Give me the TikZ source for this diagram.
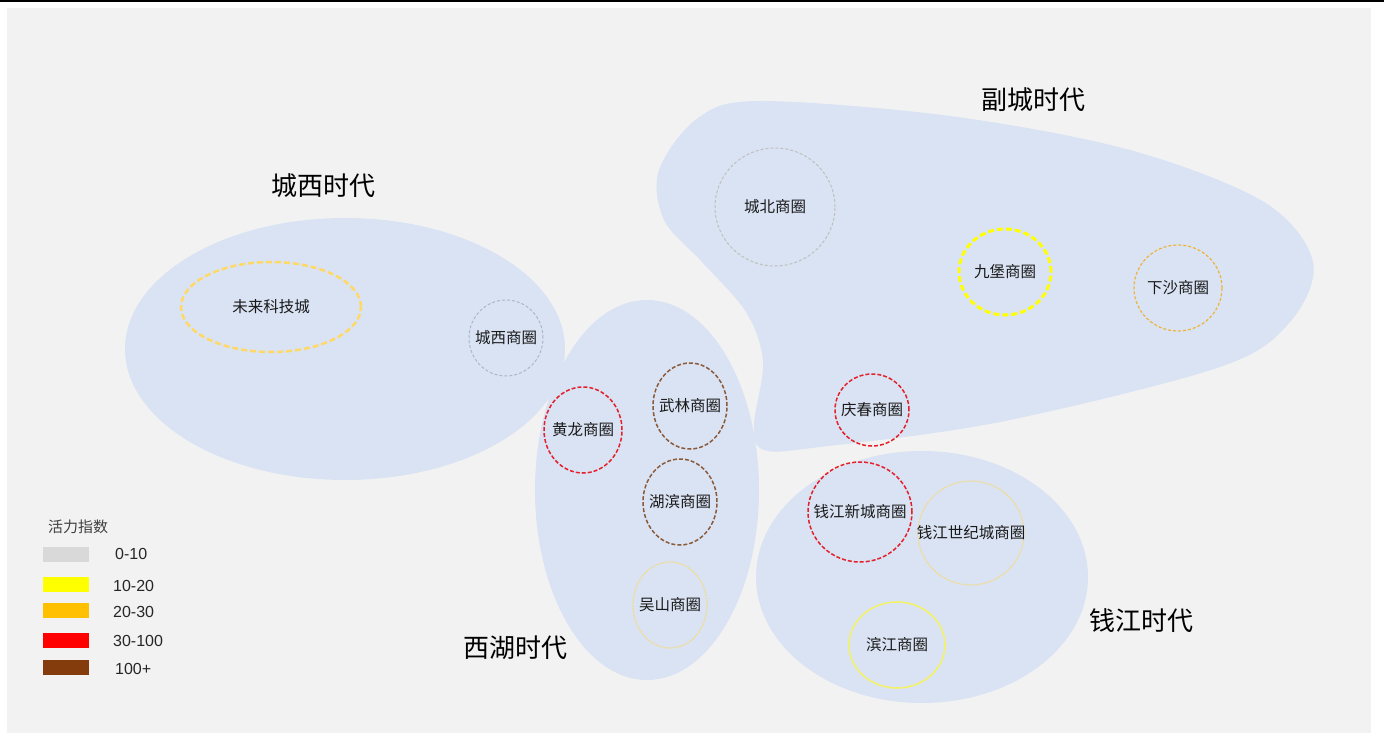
\documentclass[tikz,border=0pt]{standalone}
\usepackage{fontspec}
\setmainfont{Liberation Sans}
\newfontfamily\cjk{Noto Sans CJK SC}
\usetikzlibrary{shapes.geometric}
\definecolor{panel}{HTML}{F2F2F2}
\definecolor{zonefill}{HTML}{DAE3F3}
\definecolor{cgray}{HTML}{BFBFBF}
\definecolor{cbluegray}{HTML}{A9B7C9}
\definecolor{cyellow}{HTML}{FFFF00}
\definecolor{cgold}{HTML}{FFD966}
\definecolor{corange}{HTML}{EDB43A}
\definecolor{cred}{HTML}{E3202B}
\definecolor{cbrown}{HTML}{8A5A3A}
\definecolor{cpale}{HTML}{EEDC96}
\definecolor{clemon}{HTML}{F5F25A}
\definecolor{lgray}{HTML}{D9D9D9}
\definecolor{lorange}{HTML}{FFC000}
\definecolor{lred}{HTML}{FF0000}
\definecolor{lbrown}{HTML}{843C0C}
\tikzset{
  ring/.style={ellipse, draw, fill=none, inner sep=0pt},
  thinring/.style={ring, line width=1pt, dash pattern=on 3pt off 2pt},
  midring/.style={ring, line width=1.5pt, dash pattern=on 4pt off 2pt},
  thickring/.style={ring, line width=3pt, dash pattern=on 6pt off 3pt},
  lbl/.style={font=\cjk\fontsize{15.5}{17}\selectfont, text=black!90, inner sep=0pt},
  title/.style={font=\cjk\fontsize{26}{29}\selectfont, text=black, inner sep=0pt},
  swatch/.style={minimum width=46pt, minimum height=15pt, inner sep=0pt, draw=none},
  legtext/.style={font=\fontsize{16}{18}\selectfont, text=black!85, anchor=west, inner sep=0pt}
}
\begin{document}
\begin{tikzpicture}[x=1pt,y=-1pt]
\useasboundingbox (0,0) rectangle (1384,733);
\fill[white] (0,0) rectangle (1384,733);
\fill[black] (0,0) rectangle (1384,2.2);
\fill[panel] (7,8) rectangle (1371,733);

% zones
\fill[zonefill] (345,349) ellipse [x radius=220pt, y radius=131pt];
\fill[zonefill] (647,490) ellipse [x radius=112pt, y radius=190pt];
\fill[zonefill] (922,577) ellipse [x radius=166pt, y radius=126pt];
\fill[zonefill] plot[smooth cycle, tension=0.55] coordinates {
  (659,170) (698,118) (760,101) (950,116) (1130,150) (1264,202) (1313,262)
  (1290,322) (1220,367) (1000,422) (820,447) (764,450) (754,425) (763,362)
  (746,312) (702,262) (664,220)};

% titles
\node[title] (t1) at (323,186) {城西时代};
\node[title] (t2) at (1033,100) {副城时代};
\node[title] (t3) at (515,648) {西湖时代};
\node[title] (t4) at (1141,621) {钱江时代};

% rings
\node[thickring, draw=cgold, line width=2.5pt, minimum width=180pt, minimum height=90pt] (wl) at (271,307) {};
\node[lbl] at (wl) {未来科技城};
\node[thinring, draw=cbluegray, minimum width=74pt, minimum height=76pt] (cx) at (506,338) {};
\node[lbl] at (cx) {城西商圈};
\node[thinring, draw=cgray, minimum width=120pt, minimum height=118pt] (cb) at (775,207) {};
\node[lbl] at (cb) {城北商圈};
\node[thickring, draw=cyellow, minimum width=92pt, minimum height=86pt] (jb) at (1005,272) {};
\node[lbl] at (jb) {九堡商圈};
\node[thinring, draw=corange, line width=1.2pt, minimum width=88pt, minimum height=86pt] (xs) at (1178,288) {};
\node[lbl] at (xs) {下沙商圈};
\node[midring, draw=cred, minimum width=74pt, minimum height=72pt] (qc) at (872,410) {};
\node[lbl] at (qc) {庆春商圈};
\node[midring, draw=cred, minimum width=78pt, minimum height=86pt] (hl) at (583,430) {};
\node[lbl] at (hl) {黄龙商圈};
\node[midring, draw=cbrown, minimum width=74pt, minimum height=86pt] (wlq) at (690,406) {};
\node[lbl] at (wlq) {武林商圈};
\node[midring, draw=cbrown, minimum width=74pt, minimum height=86pt] (hb) at (680,502) {};
\node[lbl] at (hb) {湖滨商圈};
\node[thinring, draw=cpale, line width=1.3pt, dash pattern=on 2pt off 1pt, minimum width=74pt, minimum height=86pt] (ws) at (670,605) {};
\node[lbl] at (ws) {吴山商圈};
\node[midring, draw=cred, minimum width=104pt, minimum height=100pt] (qjx) at (860,512) {};
\node[lbl] at (qjx) {钱江新城商圈};
\node[thinring, draw=cpale, line width=1.3pt, dash pattern=on 2pt off 1pt, minimum width=106pt, minimum height=104pt] (qjs) at (971,533) {};
\node[lbl] at (qjs) {钱江世纪城商圈};
\node[thinring, draw=clemon, line width=1.6pt, dash pattern=on 3pt off 0.6pt, minimum width=96pt, minimum height=86pt] (bj) at (897,645) {};
\node[lbl] at (bj) {滨江商圈};

% legend
\node[font=\cjk\fontsize{15}{17}\selectfont, text=black!75, inner sep=0pt] (lt) at (78,527) {活力指数};
\node[swatch, fill=lgray] (s1) at (66,554.5) {};
\node[swatch, fill=cyellow] (s2) at (66,584.5) {};
\node[swatch, fill=lorange] (s3) at (66,610.5) {};
\node[swatch, fill=lred] (s4) at (66,640.5) {};
\node[swatch, fill=lbrown] (s5) at (66,667.5) {};
\node[legtext] (l1) at (115,554) {0-10};
\node[legtext] (l2) at (113,586) {10-20};
\node[legtext] (l3) at (113,612) {20-30};
\node[legtext] (l4) at (113,641) {30-100};
\node[legtext] (l5) at (115,669) {100+};
\end{tikzpicture}
\end{document}
